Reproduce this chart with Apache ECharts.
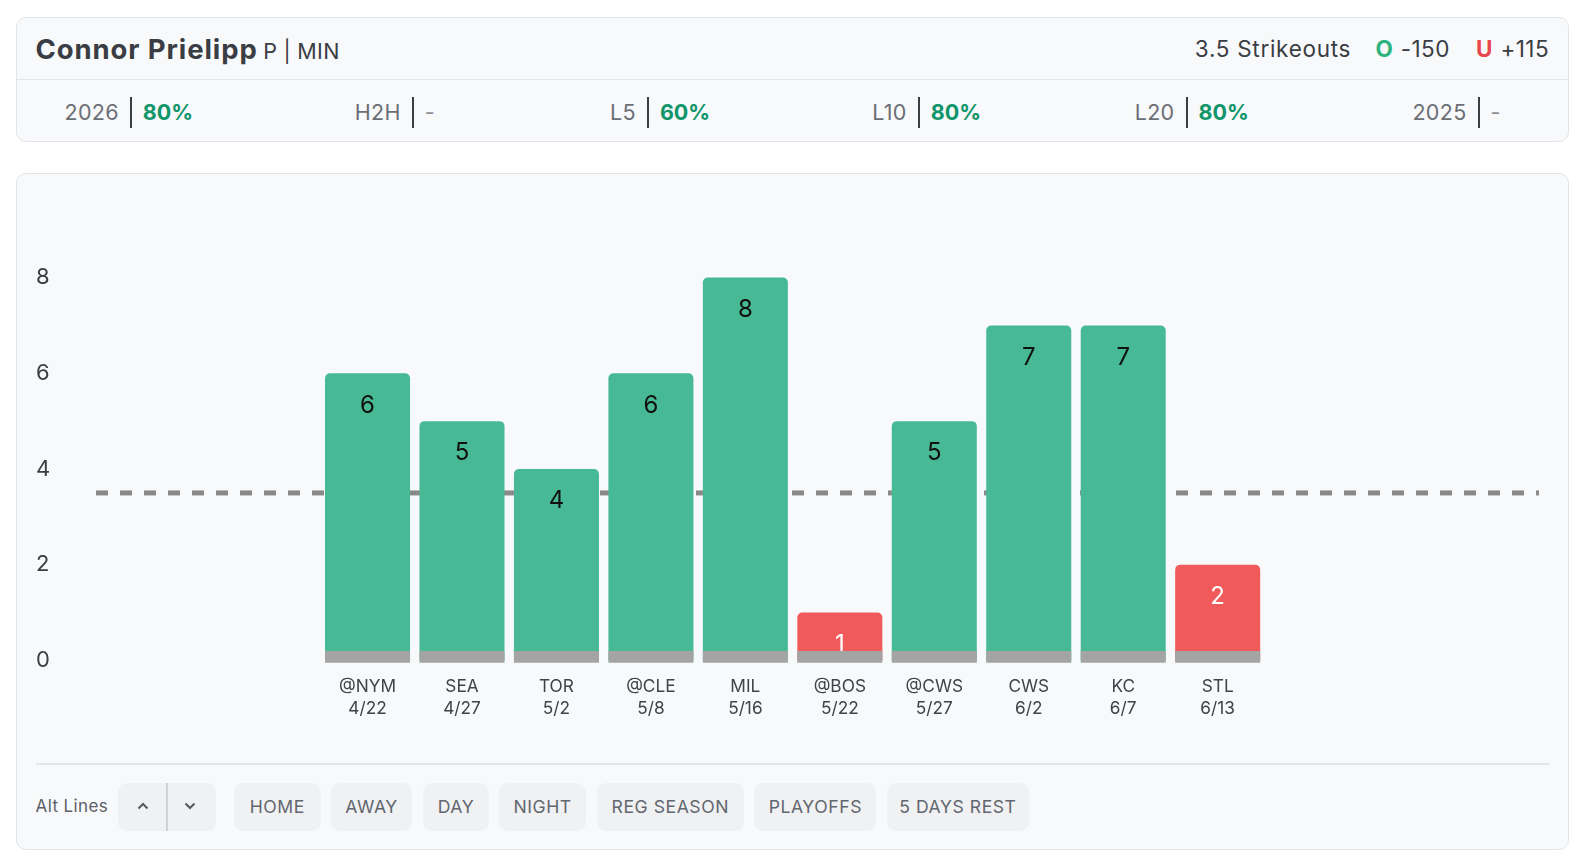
<!DOCTYPE html>
<html>
<head>
<meta charset="utf-8">
<script src="https://cdn.jsdelivr.net/npm/echarts@6.0.0/dist/echarts.min.js"></script>
<style>
  html, body { margin:0; padding:0; background:#ffffff; width:1596px; height:864px; overflow:hidden; font-family: Inter, "Noto Sans", sans-serif; }
  .card { position:absolute; background:#f8f9fa; border:1.5px solid #e2e4e7; border-radius:10px; box-sizing:border-box; }
  .abs { position:absolute; white-space:nowrap; }
  .stat-label { color:#6b6e75; font-size:21.5px; letter-spacing:0.3px; transform:translateY(-50%); text-align:right; }
  .stat-bar { width:2px; height:31px; background:#3a3d42; }
  .stat-val { font-size:21.5px; font-weight:700; transform:translateY(-50%); }
  .btn { position:absolute; background:#f0f1f3; border-radius:9px; color:#62666e; font-size:17.6px; letter-spacing:0.55px; display:flex; align-items:center; justify-content:center; }
  #chart { position:absolute; left:0; top:0; width:1596px; height:864px; }
</style>
</head>
<body>
<div class="card" style="left:16px; top:17px; width:1553px; height:125px;"></div>
<div class="abs" style="left:16px; top:78.5px; width:1553px; height:1.5px; background:#e2e4e7;"></div>
<div class="abs" id="title" style="left:35.5px; top:49px; transform:translateY(-50%); color:#3a3d43;">
  <span id="playerName" style="font-size:27.5px; font-weight:700; letter-spacing:0.9px;"></span>
  <span style="font-size:21.5px; margin-left:1px; letter-spacing:0.3px;">P | MIN</span>
</div>
<div class="abs" id="prop" style="right:47px; top:48px; transform:translateY(-50%); color:#3a3d43; font-size:22.5px;">
  <span id="propText" style="letter-spacing:0.7px;"></span>
  <span style="margin-left:18px; color:#2db47e; font-weight:700;">O</span><span id="overOdds" style="margin-left:8px; letter-spacing:0.4px;"></span>
  <span style="margin-left:20px; color:#e8474d; font-weight:700;">U</span><span id="underOdds" style="margin-left:8px; letter-spacing:0.4px;"></span>
</div>
<div id="stats"></div>

<div class="card" style="left:16px; top:173px; width:1553px; height:677px;"></div>
<div class="abs" style="left:35.5px; top:762.5px; width:1514px; height:2px; background:#e4e6e9;"></div>
<div class="abs" style="left:35.5px; top:806px; transform:translateY(-50%); color:#5c6068; font-size:17px; letter-spacing:0.4px;">Alt Lines</div>
<div class="btn" style="left:118.3px; top:783.3px; width:97.4px; height:47.4px;"></div>
<div class="abs" style="left:166px; top:783.3px; width:1.5px; height:47.4px; background:#cfd1d4;"></div>
<svg class="abs" style="left:136px; top:800px;" width="14" height="12" viewBox="0 0 14 12"><polyline points="2.5,8.5 7,4 11.5,8.5" fill="none" stroke="#55595f" stroke-width="2"/></svg>
<svg class="abs" style="left:183px; top:800px;" width="14" height="12" viewBox="0 0 14 12"><polyline points="2.5,3.5 7,8 11.5,3.5" fill="none" stroke="#55595f" stroke-width="2"/></svg>
<div id="buttons"></div>

<div id="chart"></div>
<script>
// ---------- data ----------
const playerName = 'Connor Prielipp';
const propLineText = '3.5 Strikeouts';
const overOdds = '-150';
const underOdds = '+115';
const statLabels = ['2026', 'H2H', 'L5', 'L10', 'L20', '2025'];
const statValues = ['80%', '-', '60%', '80%', '80%', '-'];
const filterButtons = ['HOME', 'AWAY', 'DAY', 'NIGHT', 'REG SEASON', 'PLAYOFFS', '5 DAYS REST'];

const opponents = ['@NYM', 'SEA', 'TOR', '@CLE', 'MIL', '@BOS', '@CWS', 'CWS', 'KC', 'STL'];
const gameDates = ['4/22', '4/27', '5/2', '5/8', '5/16', '5/22', '5/27', '6/2', '6/7', '6/13'];
const strikeouts = [6, 5, 4, 6, 8, 1, 5, 7, 7, 2];
const propLine = 3.5;
const yMin = 0, yMax = 8, yInterval = 2;

// ---------- layout (not data) ----------
const statBarX = [131.3, 413.3, 648.4, 919.2, 1186.9, 1479];
const buttonBoxes = [[234, 86.7], [330.8, 81.5], [423.4, 65.2], [498.8, 87.5], [596.5, 147.6], [754.3, 122.1], [886.6, 142.5]];

document.getElementById('playerName').textContent = playerName;
document.getElementById('propText').textContent = propLineText;
document.getElementById('overOdds').textContent = overOdds;
document.getElementById('underOdds').textContent = underOdds;

const statsEl = document.getElementById('stats');
statLabels.forEach((lab, i) => {
  const x = statBarX[i];
  const l = document.createElement('div');
  l.className = 'abs stat-label';
  l.style.right = (1596 - x + 12.5) + 'px';
  l.style.top = '112px';
  l.textContent = lab;
  statsEl.appendChild(l);
  const b = document.createElement('div');
  b.className = 'abs stat-bar';
  b.style.left = (x - 1) + 'px';
  b.style.top = '97px';
  statsEl.appendChild(b);
  const v = document.createElement('div');
  v.className = 'abs stat-val';
  v.style.left = (x + 11.5) + 'px';
  v.style.top = '112px';
  v.style.color = statValues[i] === '-' ? '#8a8d93' : '#11956a';
  v.style.fontWeight = statValues[i] === '-' ? '400' : '700';
  v.textContent = statValues[i];
  statsEl.appendChild(v);
});

const btnEl = document.getElementById('buttons');
filterButtons.forEach((t, i) => {
  const d = document.createElement('div');
  d.className = 'btn';
  d.style.left = buttonBoxes[i][0] + 'px';
  d.style.width = buttonBoxes[i][1] + 'px';
  d.style.top = '783.3px';
  d.style.height = '47.4px';
  d.textContent = t;
  btnEl.appendChild(d);
});

// ---------- chart ----------
const GREEN = '#47b994', RED = '#f05a5b';
const chart = echarts.init(document.getElementById('chart'), null, { renderer: 'canvas' });
const gridTop = 277.6, gridBottom = 203.6;

chart.setOption({
  backgroundColor: 'transparent',
  animation: false,
  textStyle: { fontFamily: 'Inter' },
  grid: [
    { left: 96, right: 57, top: gridTop, bottom: gridBottom },
    { left: 320.3, width: 944.6, top: gridTop, bottom: gridBottom }
  ],
  xAxis: [
    { gridIndex: 0, type: 'value', min: 0, max: 1, show: false },
    {
      gridIndex: 1, type: 'category', data: opponents,
      axisLine: { show: false }, axisTick: { show: false },
      axisLabel: {
        margin: 16, color: '#3f434a', fontSize: 17.3, lineHeight: 21.4, fontFamily: 'Inter',
        formatter: (val, idx) => val + '\n' + gameDates[idx]
      }
    }
  ],
  yAxis: [
    {
      gridIndex: 0, type: 'value', min: yMin, max: yMax, interval: yInterval,
      axisLine: { show: false }, axisTick: { show: false }, splitLine: { show: false },
      axisLabel: { align: 'left', margin: 60, color: '#3a3d42', fontSize: 22, fontFamily: 'Inter' }
    },
    { gridIndex: 1, type: 'value', min: yMin, max: yMax, interval: yInterval, show: false }
  ],
  series: [
    {
      type: 'line', xAxisIndex: 0, yAxisIndex: 0, z: 1,
      data: [[0, propLine], [1, propLine]],
      symbol: 'none', silent: true,
      lineStyle: { color: '#898989', width: 5, type: [12, 12], cap: 'butt' }
    },
    {
      type: 'bar', xAxisIndex: 1, yAxisIndex: 1, z: 2,
      barCategoryGap: '10%',
      data: strikeouts.map(v => ({
        value: v,
        itemStyle: { color: v > propLine ? GREEN : RED, borderRadius: [5, 5, 0, 0] },
        label: { color: v > propLine ? '#111111' : '#ffffff' }
      })),
      label: { show: true, position: 'insideTop', distance: 20, fontSize: 24, fontFamily: 'Inter' }
    },
    {
      type: 'custom', xAxisIndex: 1, yAxisIndex: 1, z: 5, silent: true,
      data: strikeouts.map((v, i) => [i, v]),
      renderItem: (params, api) => {
        const base = api.coord([api.value(0), 0]);
        const w = api.size([1, 0])[0] * 0.9;
        return {
          type: 'rect',
          shape: { x: base[0] - w / 2, y: base[1] - 9.5, width: w, height: 11.8 },
          style: { fill: '#a4a4a4' }
        };
      }
    }
  ]
});
</script>
</body>
</html>
